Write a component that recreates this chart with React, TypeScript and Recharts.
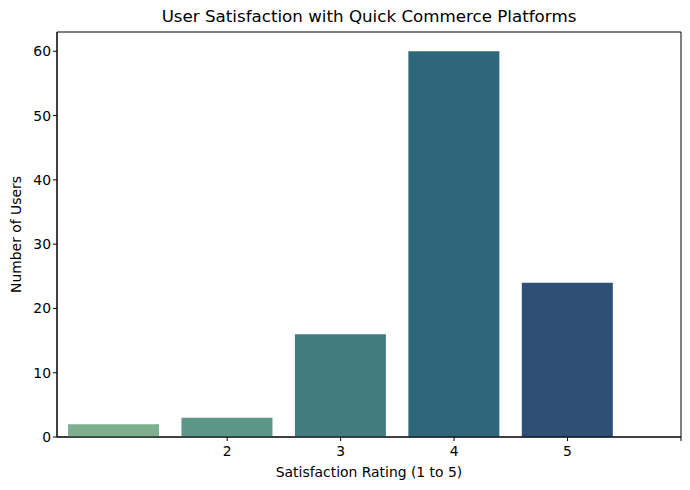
import React from 'react';
import { BarChart, Bar, XAxis, YAxis, Cell, ReferenceArea, Label } from 'recharts';

const ratings = [1, 2, 3, 4, 5];
const userCounts = [2, 3, 16, 60, 24];
const barColors = ['#7eaf8f', '#5b9688', '#427c81', '#2e6779', '#2e5077'];
const xTicks = [1, 2, 3, 4, 5];
const xTickLabels = ['2', '3', '4', '5', ''];
const yTicks = [0, 10, 20, 30, 40, 50, 60];

const data = ratings.map((r, i) => ({ pos: i, rating: r, users: userCounts[i] }));

const FONT = 'DejaVu Sans, sans-serif';
const tickStyle = { fontSize: 13.9, fill: '#000', fontFamily: FONT };

const App: React.FC = () => {
  return (
    <div style={{ position: 'absolute', left: 0, top: 0, width: 690, height: 490, background: '#fff' }}>
      <div
        style={{
          position: 'absolute',
          top: 6,
          left: 57,
          width: 624,
          textAlign: 'center',
          fontFamily: FONT,
          fontSize: 16.7,
          color: '#000',
        }}
      >
        User Satisfaction with Quick Commerce Platforms
      </div>
      <BarChart width={690} height={490} data={data} margin={{ top: 32, right: 9, bottom: 23, left: 0 }}>
        <XAxis
          dataKey="pos"
          type="number"
          domain={[-0.5, 5]}
          ticks={xTicks}
          tickFormatter={(v: number) => xTickLabels[xTicks.indexOf(v)] ?? ''}
          height={30}
          tick={tickStyle}
          tickSize={4}
          tickMargin={5}
          axisLine={{ stroke: '#000' }}
          tickLine={{ stroke: '#000' }}
          allowDataOverflow
        >
          <Label
            value="Satisfaction Rating (1 to 5)"
            position="insideBottom"
            offset={-10}
            style={{ fontSize: 13.9, fill: '#000', fontFamily: FONT }}
          />
        </XAxis>
        <YAxis
          type="number"
          domain={[0, 63]}
          ticks={yTicks}
          width={57}
          tick={tickStyle}
          tickSize={4}
          axisLine={{ stroke: '#000' }}
          tickLine={{ stroke: '#000' }}
        >
          <Label
            value="Number of Users"
            angle={-90}
            position="insideLeft"
            offset={16}
            style={{ fontSize: 13.9, fill: '#000', fontFamily: FONT, textAnchor: 'middle' }}
          />
        </YAxis>
        <ReferenceArea x1={-0.5} x2={5} y1={0} y2={63} fill="none" stroke="#000" strokeWidth={1} />
        <Bar dataKey="users" barSize={91} isAnimationActive={false}>
          {data.map((d, i) => (
            <Cell key={`cell-${i}`} fill={barColors[i]} />
          ))}
        </Bar>
      </BarChart>
    </div>
  );
};

export default App;
